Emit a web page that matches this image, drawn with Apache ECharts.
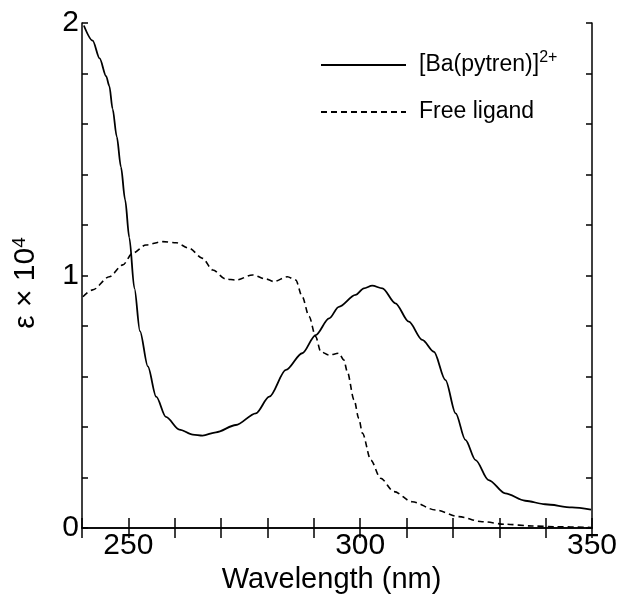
<!DOCTYPE html>
<html>
<head>
<meta charset="utf-8">
<script src="https://cdn.jsdelivr.net/npm/echarts@6/dist/echarts.min.js"></script>
<style>
  html, body { margin: 0; padding: 0; background: #fff; }
  #chart { width: 620px; height: 606px; }
</style>
</head>
<body>
<div id="chart"></div>
<script>
// wavelength (nm) and epsilon x 10^4
const complexWl = [240.4, 242.3, 243.8, 245.2, 245.9, 246.6, 247.5, 248.4, 249.3, 250.2, 251.3, 252.5,
  254.2, 256.0, 258.1, 261.0, 263.9, 266.0, 268.9, 273.2, 277.5, 280.4, 284.0, 287.5, 290.4, 293.3,
  295.4, 299.0, 300.8, 302.6, 304.8, 307.6, 310.5, 313.4, 315.9, 318.4, 320.6, 322.7, 324.9, 327.7,
  331.3, 335.6, 339.9, 345.7, 349.8];
const complexEps = [1.99, 1.93, 1.86, 1.79, 1.75, 1.66, 1.55, 1.43, 1.30, 1.15, 0.95, 0.78,
  0.64, 0.52, 0.44, 0.39, 0.37, 0.366, 0.379, 0.408, 0.454, 0.52, 0.626, 0.692, 0.764, 0.83,
  0.876, 0.923, 0.949, 0.96, 0.949, 0.89, 0.817, 0.745, 0.698, 0.586, 0.454, 0.349, 0.269, 0.19,
  0.137, 0.108, 0.094, 0.082, 0.073];

const ligandWl = [240.2, 242.3, 245.9, 248.8, 250.9, 253.8, 257.4, 260.3, 263.1, 266.0, 268.2, 271.0,
  273.2, 276.8, 279.7, 281.4, 284.3, 286.1, 287.5, 289.0, 290.4, 291.5, 293.3, 295.4, 296.5, 297.2,
  298.7, 299.7, 300.5, 302.3, 304.4, 307.3, 311.2, 316.3, 321.3, 326.3, 331.3, 337.1, 342.1, 349.8];
const ligandEps = [0.916, 0.943, 0.995, 1.042, 1.088, 1.121, 1.134, 1.13, 1.108, 1.068, 1.022, 0.986,
  0.982, 1.002, 0.986, 0.976, 0.995, 0.982, 0.916, 0.837, 0.758, 0.698, 0.685, 0.692, 0.665, 0.62,
  0.507, 0.434, 0.375, 0.269, 0.197, 0.144, 0.104, 0.071, 0.045, 0.025, 0.015, 0.008, 0.005, 0.002];

const xLabels = [250, 300, 350];
const yLabels = [0, 1, 2];
const seriesNames = ['[Ba(pytren)]2+', 'Free ligand'];

const pairs = (xs, ys) => xs.map((x, i) => [x, ys[i]]);

const chart = echarts.init(document.getElementById('chart'));
const font = 'Liberation Sans, Arial, Helvetica, sans-serif';

const frameAxis = {
  axisLine: { lineStyle: { color: '#000', width: 1.5 } },
  splitLine: { show: false },
};

const option = {
  animation: false,
  backgroundColor: '#fff',
  grid: { left: 82, right: 26, top: 23, bottom: 78 },
  legend: {
    orient: 'vertical',
    left: 320,
    top: 50,
    padding: 0,
    itemWidth: 85,
    itemHeight: 14,
    itemGap: 24,
    itemStyle: { opacity: 0 },
    data: seriesNames,
    formatter: name => name === seriesNames[0] ? '{a|[Ba(pytren)]}{s|2+}' : '{a|' + name + '}',
    textStyle: {
      padding: [0, 0, 0, 8],
      rich: {
        a: { fontFamily: font, fontSize: 23, color: '#000', lineHeight: 30 },
        s: { fontFamily: font, fontSize: 16, color: '#000', verticalAlign: 'top', lineHeight: 30, padding: [0, 0, 8, 0] },
      },
    },
  },
  // y axis title, placed by hand so it sits where the original has it
  graphic: [{
    type: 'text',
    x: 26,
    y: 283,
    rotation: Math.PI / 2,
    style: {
      text: '{a|ε × 10}{s|4}',
      align: 'center',
      verticalAlign: 'middle',
      rich: {
        a: { fontFamily: font, fontSize: 30, fill: '#000', lineHeight: 32 },
        s: { fontFamily: font, fontSize: 19, fill: '#000', verticalAlign: 'top', lineHeight: 32, padding: [0, 0, 11, 0] },
      },
    },
  }],
  xAxis: [
    Object.assign({}, frameAxis, {
      type: 'value', position: 'bottom', min: 240, max: 350, interval: 10,
      name: 'Wavelength (nm)', nameLocation: 'middle', nameGap: 34,
      nameTextStyle: { fontFamily: font, fontSize: 29, color: '#000', padding: [0, 11, 0, 0] },
      axisTick: { inside: true, length: 10, lineStyle: { color: '#000', width: 1.5 } },
      axisLabel: {
        margin: 3, fontFamily: font, fontSize: 30, color: '#000',
        formatter: v => xLabels.includes(Math.round(v)) ? String(Math.round(v)) : '',
      },
    }),
    Object.assign({}, frameAxis, {
      type: 'value', position: 'top', min: 240, max: 350, interval: 10,
      axisTick: { inside: true, length: 10, lineStyle: { color: '#000', width: 1.5 } },
      axisLabel: { show: false },
    }),
  ],
  yAxis: [
    Object.assign({}, frameAxis, {
      type: 'value', position: 'left', min: 0, max: 2, interval: 0.2,
      axisTick: { inside: true, length: 6, lineStyle: { color: '#000', width: 1.5 } },
      axisLabel: {
        margin: 3, fontFamily: font, fontSize: 30, color: '#000',
        formatter: v => {
          const r = Math.round(v);
          return Math.abs(v - r) < 1e-6 && yLabels.includes(r) ? String(r) : '';
        },
      },
    }),
    Object.assign({}, frameAxis, {
      type: 'value', position: 'right', min: 0, max: 2, interval: 0.2,
      axisTick: { inside: true, length: 6, lineStyle: { color: '#000', width: 1.5 } },
      axisLabel: { show: false },
    }),
  ],
  series: [
    {
      name: seriesNames[0],
      type: 'line',
      data: pairs(complexWl, complexEps),
      symbol: 'none',
      smooth: 0.3,
      smoothMonotone: 'x',
      lineStyle: { color: '#000', width: 1.8, type: 'solid' },
      itemStyle: { color: '#000' },
    },
    {
      name: seriesNames[1],
      type: 'line',
      data: pairs(ligandWl, ligandEps),
      symbol: 'none',
      smooth: 0.3,
      smoothMonotone: 'x',
      lineStyle: { color: '#000', width: 1.6, type: [6, 4] },
      itemStyle: { color: '#000' },
    },
  ],
};

chart.setOption(option);

window.addEventListener('resize', () => chart.resize());
</script>
</body>
</html>
